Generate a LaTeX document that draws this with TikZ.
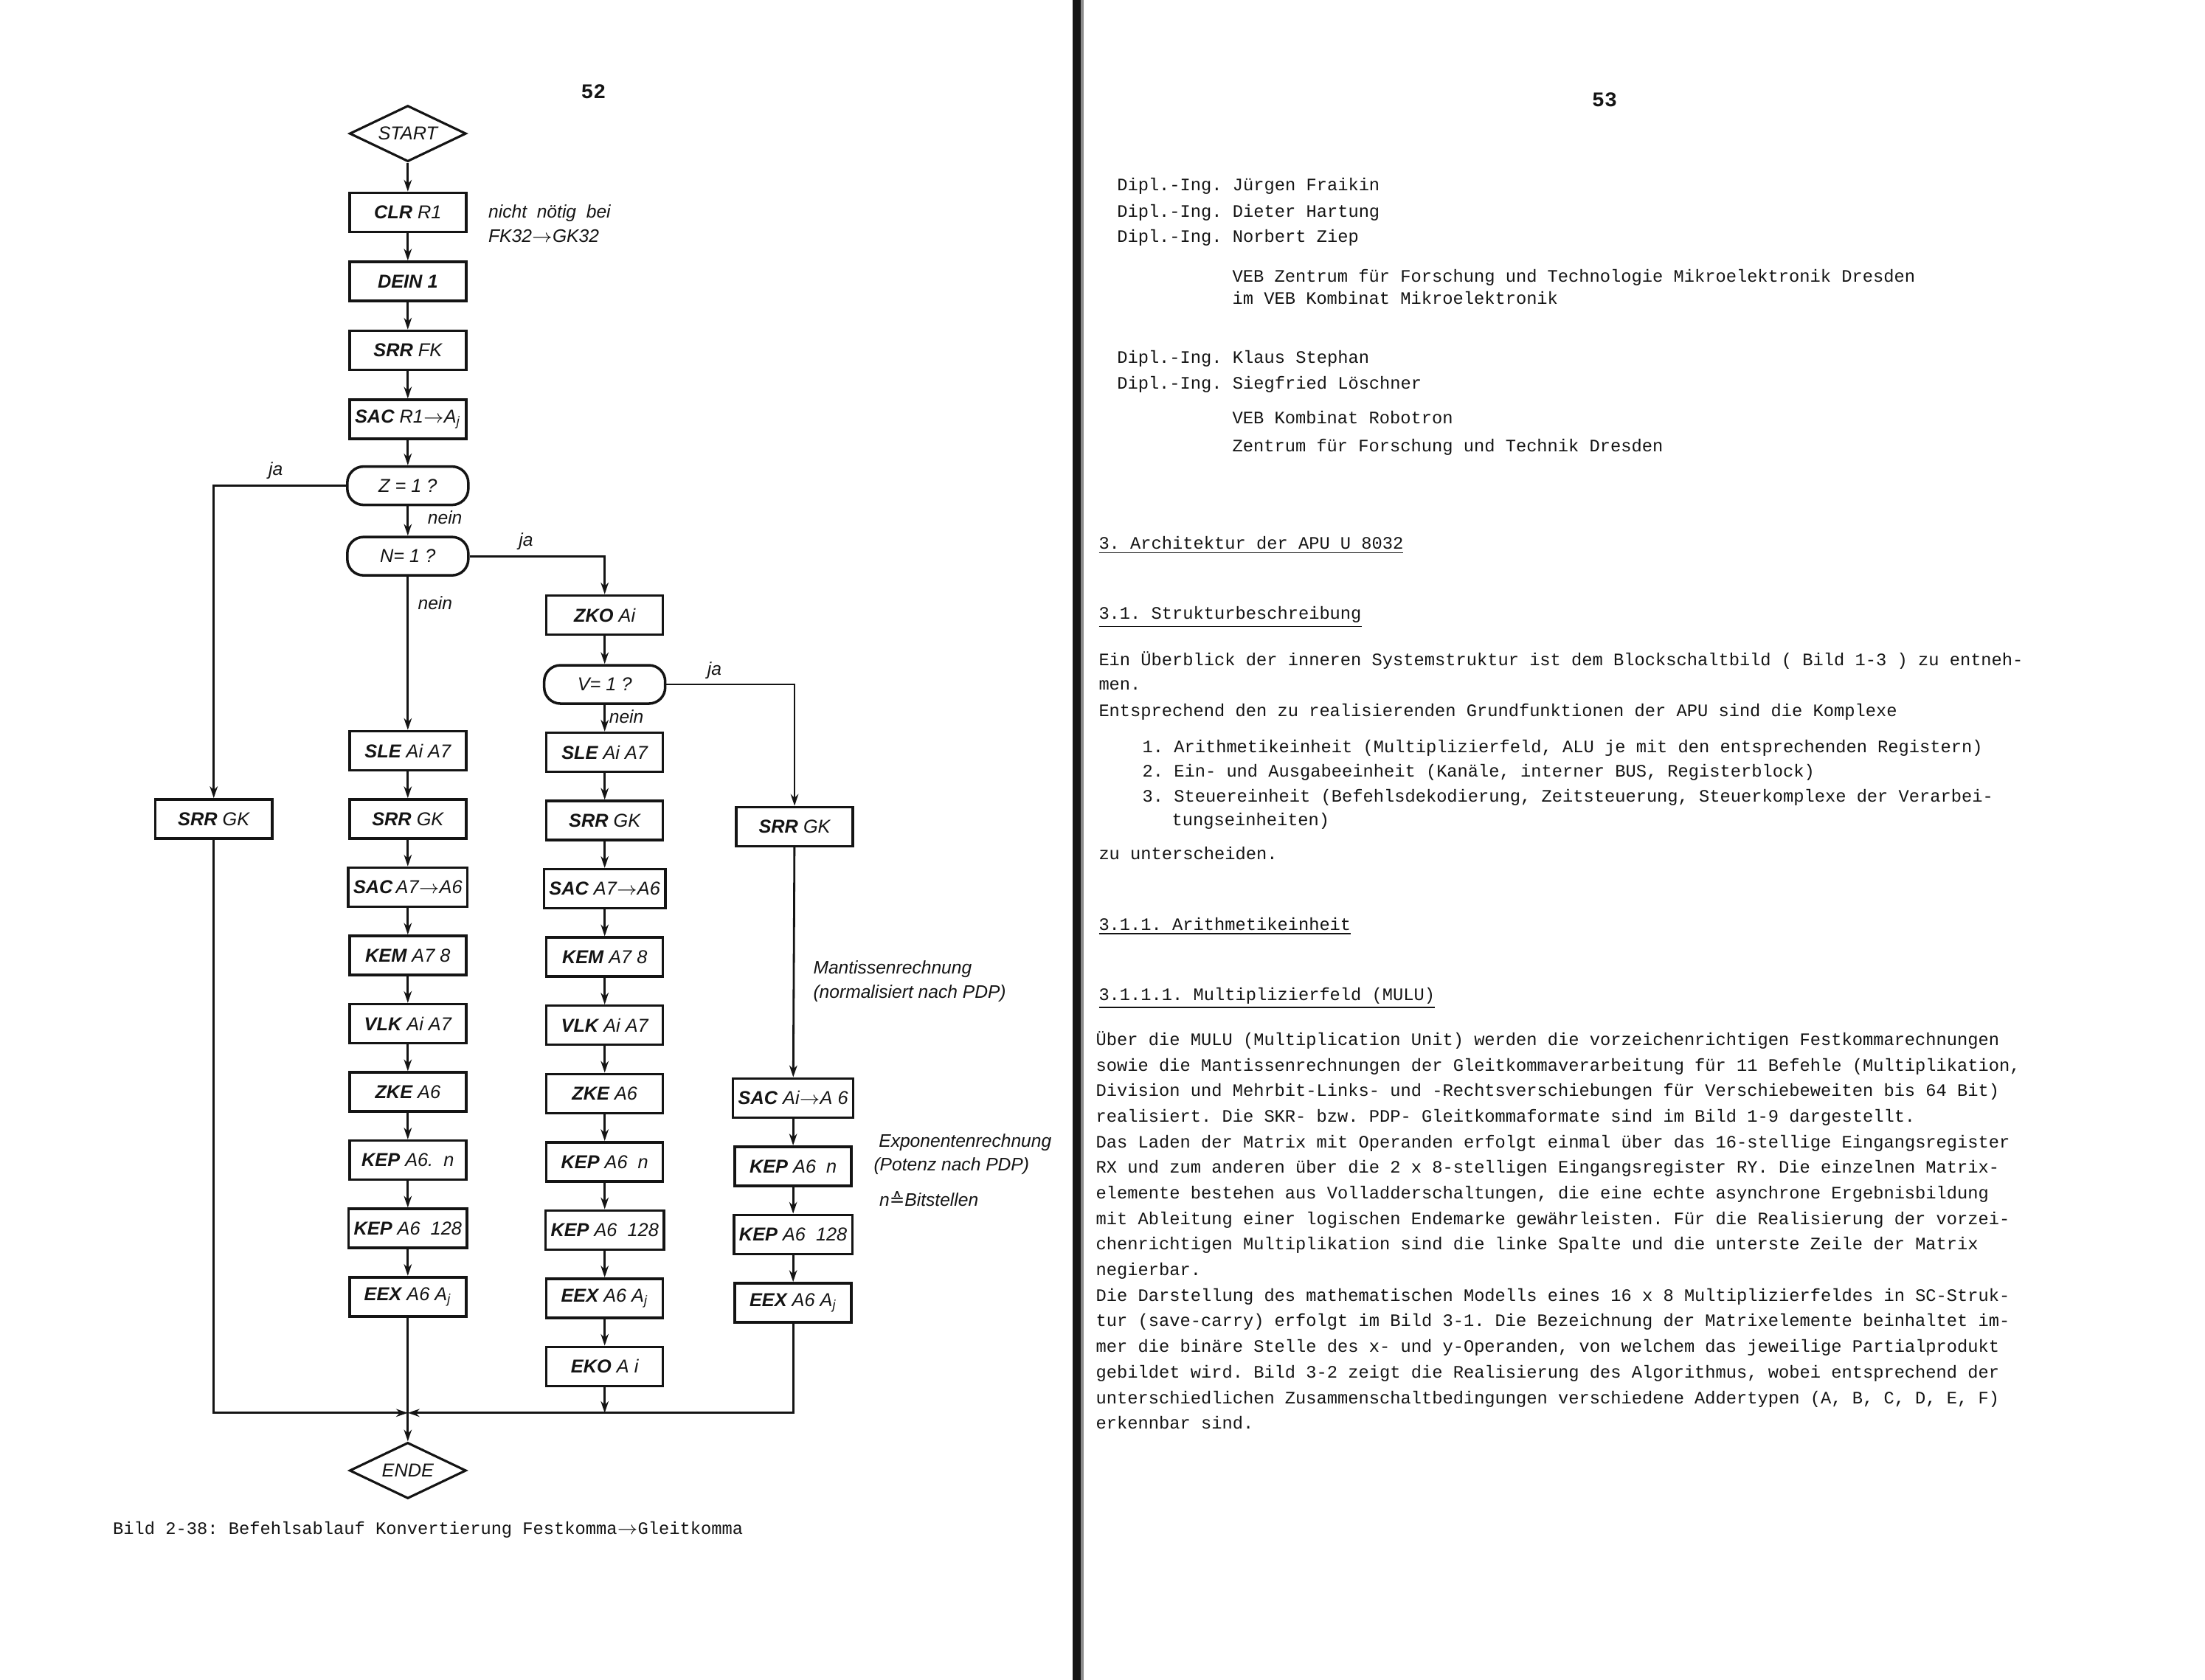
\documentclass[tikz,border=0pt]{standalone}
\usepackage{fontspec}
\setsansfont{Liberation Sans}
\setmonofont{Liberation Mono}
\newfontfamily\zeichen{DejaVu Sans}
\usepackage{tikz}
\usetikzlibrary{positioning,arrows.meta,shapes.geometric,calc}
\definecolor{tinte}{HTML}{141414}
\tikzset{
    every node/.style={font=\sffamily\itshape\fontsize{7.2}{8}\selectfont,text=tinte},
    opbox/.style={draw=tinte,line width=1pt,minimum width=1.58cm,minimum height=0.53cm,inner sep=2pt},
    decide/.style={draw=tinte,line width=1pt,rounded corners=0.22cm,minimum width=1.64cm,minimum height=0.52cm,inner sep=2pt},
    termin/.style={diamond,draw=tinte,line width=0.9pt,aspect=2.2,minimum width=1.58cm,minimum height=0.76cm,inner sep=0pt},
    note/.style={align=left,anchor=west,inner sep=0pt,font=\sffamily\itshape\fontsize{7}{9.2}\selectfont},
    yesno/.style={inner sep=1pt,font=\sffamily\itshape\fontsize{7}{8}\selectfont},
    typed/.style={anchor=base west,inner sep=0pt,font=\ttfamily\fontsize{6.75}{9.87}\selectfont},
    pageno/.style={inner sep=0pt,font=\ttfamily\bfseries\fontsize{8}{9}\selectfont},
    flow/.style={draw=tinte,line width=0.8pt,-{Stealth[length=4.5pt,width=3pt]}}
}

\begin{document}
\begin{tikzpicture}[x=0.019063cm,y=-0.019063cm,node distance=0.36cm]
\fill[white] (0,0) rectangle (1568,1195);
\useasboundingbox (0,0) rectangle (1568,1195);

% Falz zwischen den Seiten
\fill[tinte] (762.5,0) rectangle (768.5,1195);
\fill[black!45] (768.5,0) rectangle (770.5,1195);

% ---------------- Seite 52 ----------------
\node[pageno] (s52) at (422,65) {52};

\node[termin] (start) at (290,95) {START};
\node[opbox,below=0.39cm of start] (clr) {\textbf{CLR} R1};
\node[opbox,below=0.37cm of clr] (dein) {\textbf{DEIN 1}};
\node[opbox,below=0.37cm of dein] (srrfk) {\textbf{SRR} FK};
\node[opbox,below=0.37cm of srrfk] (sacr) {\textbf{SAC} R1$\rightarrow$A\textsubscript{j}};
\node[decide,below=0.34cm of sacr] (zq) {Z = 1 ?};
\node[decide,below=0.4cm of zq] (nq) {N= 1 ?};

% linker Zweig
\node[opbox] (srr1) at (152,582.5) {\textbf{SRR} GK};

% Zweig N=0
\node[opbox] (sle2) at (290,534) {\textbf{SLE} Ai A7};
\node[opbox,below=of sle2] (srr2) {\textbf{SRR} GK};
\node[opbox,below=of srr2] (sac2) {\textbf{SAC}\,A7$\rightarrow$A6};
\node[opbox,below=of sac2] (kem2) {\textbf{KEM} A7 8};
\node[opbox,below=of kem2] (vlk2) {\textbf{VLK} Ai A7};
\node[opbox,below=of vlk2] (zke2) {\textbf{ZKE} A6};
\node[opbox,below=of zke2] (kep2) {\textbf{KEP} A6.\ \ n};
\node[opbox,below=of kep2] (kepx2) {\textbf{KEP} A6\ \ 128};
\node[opbox,below=of kepx2] (eex2) {\textbf{EEX} A6 A\textsubscript{j}};

% Zweig N=1
\node[opbox] (zko) at (430,437.5) {\textbf{ZKO} Ai};
\node[decide,below=0.38cm of zko] (vq) {V= 1 ?};
\node[opbox,below=of vq] (sle3) {\textbf{SLE} Ai A7};
\node[opbox,below=of sle3] (srr3) {\textbf{SRR} GK};
\node[opbox,below=of srr3] (sac3) {\textbf{SAC} A7$\rightarrow$A6};
\node[opbox,below=of sac3] (kem3) {\textbf{KEM} A7 8};
\node[opbox,below=of kem3] (vlk3) {\textbf{VLK} Ai A7};
\node[opbox,below=of vlk3] (zke3) {\textbf{ZKE} A6};
\node[opbox,below=of zke3] (kep3) {\textbf{KEP} A6\ \ n};
\node[opbox,below=of kep3] (kepx3) {\textbf{KEP} A6\ \ 128};
\node[opbox,below=of kepx3] (eex3) {\textbf{EEX} A6 A\textsubscript{j}};
\node[opbox,below=of eex3] (eko) {\textbf{EKO} A i};

% Zweig V=1
\node[opbox] (srr4) at (565,588) {\textbf{SRR} GK};
\node[opbox] (sac4) at (564,781) {\textbf{SAC} Ai$\rightarrow$A 6};
\node[opbox,below=of sac4] (kep4) {\textbf{KEP} A6\ \ n};
\node[opbox,below=of kep4] (kepx4) {\textbf{KEP} A6\ \ 128};
\node[opbox,below=of kepx4] (eex4) {\textbf{EEX} A6 A\textsubscript{j}};

\node[termin] (ende) at (290,1046) {ENDE};
\coordinate (jy) at (0,1005);
\coordinate (jn) at (eex2.south |- jy);

% Verbindungen
\foreach \a/\b in {start/clr,clr/dein,dein/srrfk,srrfk/sacr,sacr/zq,zq/nq,nq/sle2,
    sle2/srr2,srr2/sac2,sac2/kem2,kem2/vlk2,vlk2/zke2,zke2/kep2,kep2/kepx2,kepx2/eex2,eex2/ende,
    zko/vq,vq/sle3,sle3/srr3,srr3/sac3,sac3/kem3,kem3/vlk3,vlk3/zke3,zke3/kep3,kep3/kepx3,kepx3/eex3,eex3/eko,
    srr4/sac4,sac4/kep4,kep4/kepx4,kepx4/eex4}
    \draw[flow] (\a) -- (\b);
\draw[flow] (zq.west) -| (srr1.north);
\draw[flow] (nq.east) -| (zko.north);
\draw[flow] (vq.east) -| (srr4.north);
\draw[flow] (srr1.south) |- (jn);
\draw[flow] (eex4.south) |- (jn);
\draw[flow] (eko.south) -- (eko.south |- jn);

\node[yesno] (ja1) at (196,335) {ja};
\node[yesno,anchor=west] (nein1) at (302,368) {nein};
\node[yesno] (ja2) at (374,385) {ja};
\node[yesno,anchor=west] (nein2) at (295,429) {nein};
\node[yesno] (ja3) at (508,477) {ja};
\node[yesno,anchor=west] (nein3) at (431,510) {nein};

\node[note] (hint) at (347,159) {nicht\ \ n\"otig\ \ bei\\FK32$\rightarrow$GK32};
\node[note] (mant) at (578,698) {Mantissenrechnung\\(normalisiert nach PDP)};
\node[note] (expo) at (621,821) {\ Exponentenrechnung\\(Potenz nach PDP)};
\node[note] (bits) at (625,853) {n{\zeichen\upshape ≙}Bitstellen};

\node[typed] (cap) at (80,1091.5) {Bild 2-38: Befehlsablauf Konvertierung Festkomma$\rightarrow$Gleitkomma};

% ---------------- Seite 53 ----------------
\node[pageno] (s53) at (1141,71) {53};

\node[typed] (au1) at (794,135.5) {Dipl.-Ing. J\"urgen Fraikin};
\node[typed] (au2) at (794,154.5) {Dipl.-Ing. Dieter Hartung};
\node[typed] (au3) at (794,172.5) {Dipl.-Ing. Norbert Ziep};
\node[typed] (inst1) at (876,200.5) {VEB Zentrum f\"ur Forschung und Technologie Mikroelektronik Dresden};
\node[typed] (inst1b) at (876,216.5) {im VEB Kombinat Mikroelektronik};
\node[typed] (au4) at (794,258.5) {Dipl.-Ing. Klaus Stephan};
\node[typed] (au5) at (794,276.5) {Dipl.-Ing. Siegfried L\"oschner};
\node[typed] (inst2) at (876,301.5) {VEB Kombinat Robotron};
\node[typed] (inst2b) at (876,321.5) {Zentrum f\"ur Forschung und Technik Dresden};

\node[typed] (h3) at (781,390.5) {\underline{3. Architektur der APU U 8032}};
\node[typed] (h31) at (781,440.5) {\underline{3.1. Strukturbeschreibung}};
\node[typed] (t1) at (781,473.5) {Ein \"Uberblick der inneren Systemstruktur ist dem Blockschaltbild ( Bild 1-3 ) zu entneh-};
\node[typed] (t2) at (781,490.5) {men.};
\node[typed] (t3) at (781,509.5) {Entsprechend den zu realisierenden Grundfunktionen der APU sind die Komplexe};
\node[typed] (li1) at (812,535.5) {1. Arithmetikeinheit (Multiplizierfeld, ALU je mit den entsprechenden Registern)};
\node[typed] (li2) at (812,552.5) {2. Ein- und Ausgabeeinheit (Kan\"ale, interner BUS, Registerblock)};
\node[typed] (li3) at (812,570.5) {3. Steuereinheit (Befehlsdekodierung, Zeitsteuerung, Steuerkomplexe der Verarbei-};
\node[typed] (li3b) at (833,587.5) {tungseinheiten)};
\node[typed] (t4) at (781,611.5) {zu unterscheiden.};
\node[typed] (h311) at (781,661.5) {\underline{3.1.1. Arithmetikeinheit}};
\node[typed] (h3111) at (781,711.5) {\underline{3.1.1.1. Multiplizierfeld (MULU)}};

\foreach \zeile [count=\i] in {
    {\"Uber die MULU (Multiplication Unit) werden die vorzeichenrichtigen Festkommarechnungen},
    {sowie die Mantissenrechnungen der Gleitkommaverarbeitung f\"ur 11 Befehle (Multiplikation,},
    {Division und Mehrbit-Links- und -Rechtsverschiebungen f\"ur Verschiebeweiten bis 64 Bit)},
    {realisiert. Die SKR- bzw. PDP- Gleitkommaformate sind im Bild 1-9 dargestellt.},
    {Das Laden der Matrix mit Operanden erfolgt einmal \"uber das 16-stellige Eingangsregister},
    {RX und zum anderen \"uber die 2 x 8-stelligen Eingangsregister RY. Die einzelnen Matrix-},
    {elemente bestehen aus Volladderschaltungen, die eine echte asynchrone Ergebnisbildung},
    {mit Ableitung einer logischen Endemarke gew\"ahrleisten. F\"ur die Realisierung der vorzei-},
    {chenrichtigen Multiplikation sind die linke Spalte und die unterste Zeile der Matrix},
    {negierbar.},
    {Die Darstellung des mathematischen Modells eines 16 x 8 Multiplizierfeldes in SC-Struk-},
    {tur (save-carry) erfolgt im Bild 3-1. Die Bezeichnung der Matrixelemente beinhaltet im-},
    {mer die bin\"are Stelle des x- und y-Operanden, von welchem das jeweilige Partialprodukt},
    {gebildet wird. Bild 3-2 zeigt die Realisierung des Algorithmus, wobei entsprechend der},
    {unterschiedlichen Zusammenschaltbedingungen verschiedene Addertypen (A, B, C, D, E, F)},
    {erkennbar sind.}}
    \node[typed] (p\i) at (779,{743.5+18.2*(\i-1)}) {\zeile};
\end{tikzpicture}
\end{document}
